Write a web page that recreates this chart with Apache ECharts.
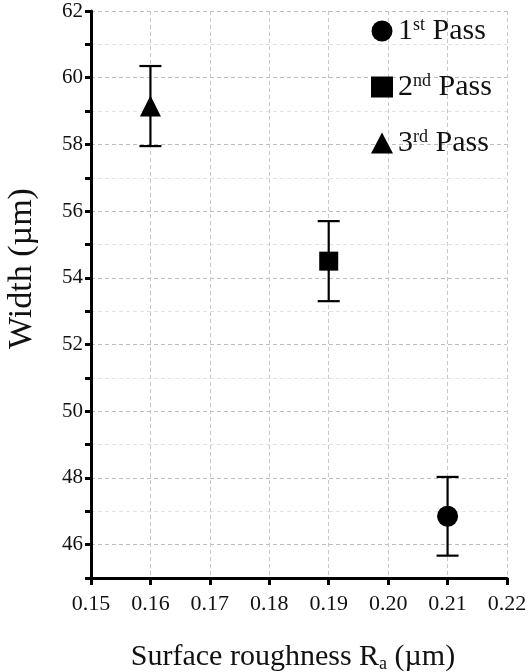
<!DOCTYPE html>
<html>
<head>
<meta charset="utf-8">
<script src="https://cdn.jsdelivr.net/npm/echarts@6/dist/echarts.min.js"></script>
<style>
  html, body { margin: 0; padding: 0; background: #fff; }
  #chart { width: 528px; height: 672px; }
</style>
</head>
<body>
<div id="chart"></div>
<script>
// passes and their data
const passNames = ['1st Pass', '2nd Pass', '3rd Pass'];
const passSup = ['st', 'nd', 'rd'];
const passSymbols = ['circle', 'rect', 'triangle'];
const roughness = [0.21, 0.19, 0.16];     // Ra (µm)
const widthMean = [46.85, 54.5, 59.15];   // width (µm)
const widthErr = [1.18, 1.2, 1.2];        // error bar half length

const serif = 'Liberation Serif, Times New Roman, serif';

const chart = echarts.init(document.getElementById('chart'));

const series = [];
passNames.forEach(function (name, i) {
  // error bar
  series.push({
    type: 'custom',
    name: name,
    silent: true,
    z: 3,
    data: [[roughness[i], widthMean[i] - widthErr[i], widthMean[i] + widthErr[i]]],
    renderItem: function (params, api) {
      const lo = api.coord([api.value(0), api.value(1)]);
      const hi = api.coord([api.value(0), api.value(2)]);
      const cap = 11;
      const style = { stroke: '#000', lineWidth: 2.2 };
      return {
        type: 'group',
        children: [
          { type: 'line', shape: { x1: lo[0], y1: lo[1], x2: hi[0], y2: hi[1] }, style: style },
          { type: 'line', shape: { x1: lo[0] - cap, y1: lo[1], x2: lo[0] + cap, y2: lo[1] }, style: style },
          { type: 'line', shape: { x1: hi[0] - cap, y1: hi[1], x2: hi[0] + cap, y2: hi[1] }, style: style }
        ]
      };
    }
  });
  // point
  series.push({
    type: 'scatter',
    name: name,
    symbol: passSymbols[i],
    symbolSize: passSymbols[i] === 'rect' ? 19 : 21,
    itemStyle: { color: '#000', opacity: 1 },
    z: 4,
    data: [[roughness[i], widthMean[i]]]
  });
});

const option = {
  backgroundColor: '#fff',
  animation: false,
  grid: { left: 91, right: 21, top: 11, bottom: 94, containLabel: false, outerBoundsMode: 'none' },
  legend: {
    orient: 'vertical',
    left: 366,
    top: 11,
    itemWidth: 22,
    itemHeight: 21,
    itemGap: 26,
    data: passNames.map(function (n, i) { return { name: n, icon: passSymbols[i] }; }),
    itemStyle: { color: '#000', opacity: 1 },
    formatter: function (n) {
      const i = passNames.indexOf(n);
      return '{n|' + n.charAt(0) + '}{s|' + passSup[i] + '}{n| Pass}';
    },
    textStyle: {
      rich: {
        n: { fontFamily: serif, fontSize: 30, color: '#111' },
        s: { fontFamily: serif, fontSize: 18, color: '#111', verticalAlign: 'top', padding: [0, 0, 12, 0] }
      }
    }
  },
  xAxis: {
    type: 'value',
    min: 0.15,
    max: 0.22,
    interval: 0.01,
    name: '{n|Surface roughness R}{s|a}{n| (µm)}',
    nameLocation: 'middle',
    nameGap: 63,
    nameTextStyle: {
      padding: [0, 12, 0, 0],
      rich: {
        n: { fontFamily: serif, fontSize: 30, color: '#111' },
        s: { fontFamily: serif, fontSize: 18, color: '#111', verticalAlign: 'bottom', padding: [14, 0, 0, 0] }
      }
    },
    axisLine: { show: true, onZero: false, lineStyle: { color: '#000', width: 3 } },
    axisTick: { show: true, length: 7, lineStyle: { color: '#000', width: 3 } },
    axisLabel: {
      fontFamily: serif, fontSize: 22, color: '#111', margin: 15,
      formatter: function (v) { return v.toFixed(2); }
    },
    splitLine: { show: true, lineStyle: { color: '#c8c8c8', type: [4, 3], width: 1 } }
  },
  yAxis: {
    type: 'value',
    min: 45,
    max: 62,
    interval: 1,
    name: 'Width (µm)',
    nameLocation: 'middle',
    nameGap: 52,
    nameTextStyle: { fontFamily: serif, fontSize: 34, color: '#111', padding: [0, 0, 0, 52] },
    axisLine: { show: true, onZero: false, lineStyle: { color: '#000', width: 3 } },
    axisTick: { show: true, length: 6, lineStyle: { color: '#000', width: 3 } },
    axisLabel: {
      fontFamily: serif, fontSize: 21, color: '#111', margin: 8,
      formatter: function (v) { return v % 2 === 0 ? String(v) : ''; }
    },
    splitLine: { show: true, lineStyle: { color: ['#e2e2e2', '#bdbdbd'], type: [4, 3], width: 1 } }
  },
  series: series
};

chart.setOption(option);
</script>
</body>
</html>
